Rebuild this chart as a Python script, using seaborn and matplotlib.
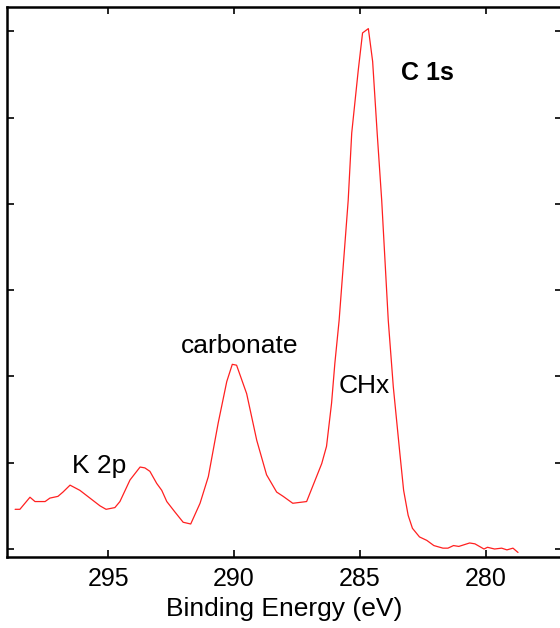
import numpy as np
import pandas as pd
import seaborn as sns
import matplotlib.pyplot as plt

# C 1s spectrum (binding energy in eV, intensity in tick units)
binding_energy = [
    298.69, 298.50, 298.10, 297.90, 297.50, 297.31, 296.99, 296.79, 296.51, 296.12,
    295.72, 295.32, 295.08, 294.73, 294.53, 294.13, 293.73, 293.54, 293.34, 293.07,
    292.87, 292.67, 292.35, 292.02, 291.72, 291.35, 291.02, 290.63, 290.29, 290.07,
    289.90, 289.50, 289.10, 288.71, 288.31, 288.05, 287.67, 287.12, 286.52, 286.33,
    286.13, 286.00, 285.83, 285.47, 285.33, 285.07, 284.90, 284.67, 284.50, 284.32,
    284.14, 283.88, 283.68, 283.42, 283.27, 283.09, 282.92, 282.64, 282.35, 282.07,
    281.71, 281.51, 281.29, 281.08, 280.65, 280.44, 280.08, 279.94, 279.66, 279.38,
    279.17, 278.93, 278.73,
]
intensity = [
    0.46, 0.46, 0.60, 0.55, 0.55, 0.59, 0.61, 0.66, 0.74, 0.68,
    0.59, 0.50, 0.46, 0.48, 0.55, 0.80, 0.95, 0.94, 0.90, 0.76,
    0.68, 0.55, 0.43, 0.31, 0.29, 0.53, 0.84, 1.46, 1.94, 2.14,
    2.13, 1.80, 1.26, 0.86, 0.66, 0.61, 0.53, 0.55, 0.99, 1.19,
    1.69, 2.15, 2.65, 4.04, 4.82, 5.55, 5.98, 6.03, 5.65, 4.82,
    4.04, 2.65, 1.88, 1.11, 0.68, 0.39, 0.24, 0.14, 0.10, 0.04,
    0.01, 0.01, 0.04, 0.03, 0.07, 0.06, 0.00, 0.02, 0.00, 0.01,
    -0.01, 0.01, -0.04,
]

x_ticks = [295, 290, 285, 280]
y_ticks = [0, 1, 2, 3, 4, 5, 6]

# peak labels: (text, energy, intensity)
peak_labels = [
    ("K 2p", 295.36, 0.88),
    ("carbonate", 289.77, 2.27),
    ("CHx", 284.85, 1.81),
]

df = pd.DataFrame({"be": binding_energy, "counts": intensity})

sns.set_style("ticks")
plt.rcParams["font.family"] = ["Liberation Sans", "DejaVu Sans"]

fig = plt.figure(figsize=(5.6, 6.28), dpi=100)
ax = fig.add_axes([7.3 / 560, 70.7 / 628, 554.3 / 560, 550 / 628])

sns.lineplot(data=df, x="be", y="counts", sort=False, estimator=None,
             color="#ff2020", linewidth=0.9, ax=ax)

ax.set_xlim(299, 277)
ax.set_ylim(-0.096, 6.277)
ax.set_xticks(x_ticks)
ax.set_yticks(y_ticks)
ax.set_yticklabels([])
ax.tick_params(axis="both", direction="in", length=5, width=1.2, color="black",
               labelcolor="black", top=True, right=True, labelsize=18, pad=7)
for s in ax.spines.values():
    s.set_linewidth(1.8)
    s.set_color("black")

ax.set_xlabel("Binding Energy (eV)", fontsize=19, labelpad=4, color="black")
ax.set_ylabel("")

for text, be, val in peak_labels:
    ax.text(be, val, text, fontsize=19, ha="center", va="baseline", color="black")
ax.text(283.38, 5.43, "C 1s", fontsize=18, fontweight="bold", ha="left",
        va="baseline", color="black")

fig.savefig("out.png", dpi=100)
